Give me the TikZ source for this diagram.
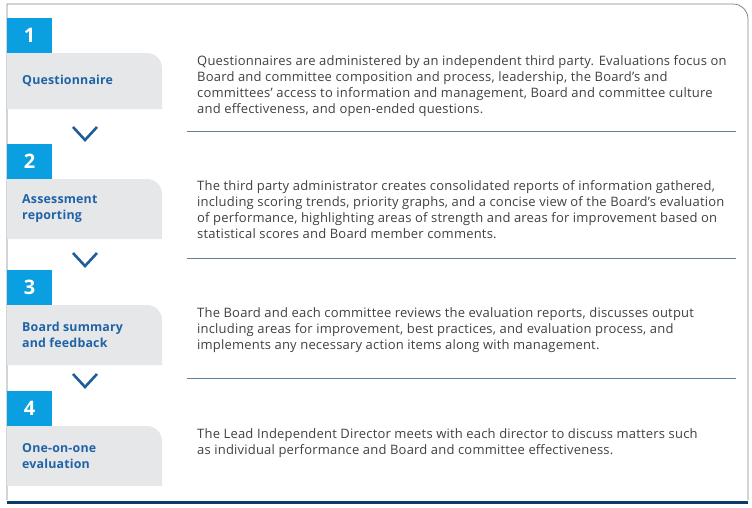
\documentclass[tikz,border=0pt]{standalone}
\usepackage{fontspec}
\setmainfont{Open Sans}[LetterSpace=1.5]
\definecolor{numblue}{HTML}{0A9FE0}
\definecolor{labelgrey}{HTML}{E6E7E9}
\definecolor{labelblue}{HTML}{1F63A6}
\definecolor{chevblue}{HTML}{1F5C99}
\definecolor{ruleblue}{HTML}{5F7F9F}
\definecolor{framegrey}{HTML}{7D8790}
\definecolor{bottomblue}{HTML}{0C3B6B}
\definecolor{bodygrey}{HTML}{404040}
\tikzset{
  numbox/.style={fill=numblue, text=white, font=\bfseries\fontsize{20}{20}\selectfont,
    minimum width=45pt, minimum height=35pt, inner sep=0pt, anchor=south west},
  steplabel/.style={anchor=west, align=left, inner sep=0pt, text=labelblue,
    font=\bfseries\fontsize{12.4}{16}\selectfont},
  steptext/.style={anchor=north west, align=left, inner sep=0pt, text=bodygrey,
    font=\fontsize{13}{16}\selectfont},
  chevron/.style={draw=chevblue, line width=2.6pt},
  rule/.style={draw=ruleblue, line width=1pt}
}
\begin{document}
\begin{tikzpicture}[x=1pt,y=-1pt]
        \useasboundingbox (0,0) rectangle (752,507);
        \draw[framegrey, line width=0.8pt] (7,500) -- (7,4) [rounded corners=15pt] -- (748,4) [sharp corners] -- (748,500);
        \draw[bottomblue, line width=3pt] (7,502) -- (748,502);
        \foreach \n/\t/\b in {1/53/109, 2/179/239, 3/305/365, 4/426/486} {
                \fill[labelgrey] (7,\b) -- (7,\t) [rounded corners=15pt] -- (162,\t) [sharp corners] -- (162,\b) -- cycle;
                \node[numbox] (num\n) at (7,\t) {\n};
            }
        \foreach \y in {127,253,374} {
                \draw[chevron] (73,\y) -- (85,\y+13) -- (97,\y);
            }
        \foreach \y in {131,258,378} {
                \draw[rule] (187,\y) -- (736,\y);
            }
        \node[steplabel] (lab1) at (22,81) {Questionnaire};
        \node[steplabel] (lab2) at (22,209) {Assessment\\reporting};
        \node[steplabel] (lab3) at (22,335) {Board summary\\and feedback};
        \node[steplabel] (lab4) at (22,456) {One-on-one\\evaluation};
        \node[steptext] (txt1) at (197,55) {Questionnaires are administered by an independent third party. Evaluations focus on\\
            Board and committee composition and process, leadership, the Board’s and\\
            committees’ access to information and management, Board and committee culture\\
            and effectiveness, and open-ended questions.};
        \node[steptext] (txt2) at (197,180) {The third party administrator creates consolidated reports of information gathered,\\
            including scoring trends, priority graphs, and a concise view of the Board’s evaluation\\
            of performance, highlighting areas of strength and areas for improvement based on\\
            statistical scores and Board member comments.};
        \node[steptext] (txt3) at (197,307) {The Board and each committee reviews the evaluation reports, discusses output\\
            including areas for improvement, best practices, and evaluation process, and\\
            implements any necessary action items along with management.};
        \node[steptext] (txt4) at (197,428) {The Lead Independent Director meets with each director to discuss matters such\\
            as individual performance and Board and committee effectiveness.};
    \end{tikzpicture}
\end{document}
